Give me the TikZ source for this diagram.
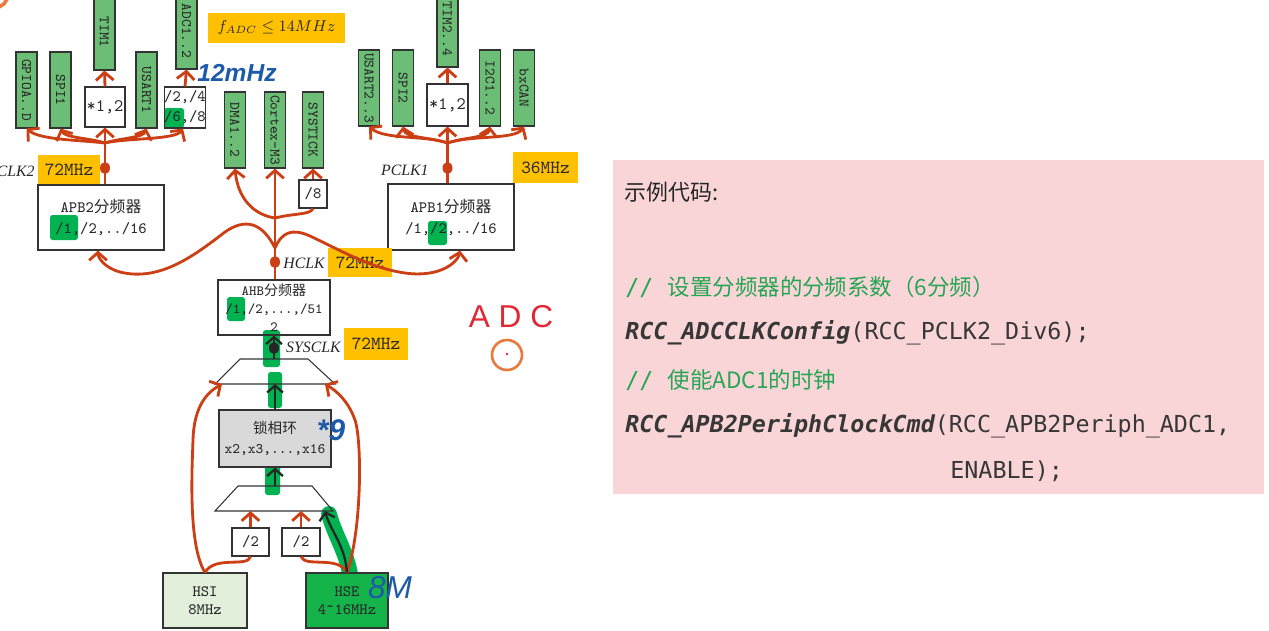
\documentclass[tikz,border=0pt]{standalone}
\usepackage{fontspec}
\usepackage{graphicx}
\setmainfont{Liberation Serif}
\newfontfamily\cjk{Noto Sans CJK SC}
\newfontfamily\codefont{DejaVu Sans Mono}
\newfontfamily\handfont{Liberation Sans}
\newfontfamily\dfont{Latin Modern Mono}
\usetikzlibrary{arrows.meta,calc}
\definecolor{pgreen}{RGB}{108,190,118}
\definecolor{hlg}{RGB}{0,178,80}
\definecolor{ylw}{RGB}{255,192,0}
\definecolor{arr}{RGB}{204,62,20}
\definecolor{txt}{RGB}{40,40,40}
\definecolor{pinkbg}{RGB}{250,213,215}
\definecolor{cgreen}{RGB}{38,165,85}
\definecolor{hand}{RGB}{30,90,170}
\definecolor{hsig}{RGB}{226,239,218}
\definecolor{hseg}{RGB}{20,180,75}
\definecolor{pllg}{RGB}{217,217,217}
\definecolor{adcred}{RGB}{225,40,50}
\definecolor{ring}{RGB}{232,122,60}
\definecolor{codetxt}{RGB}{55,55,55}
\newcommand\zh[1]{{\cjk #1}}
\begin{document}
\begin{tikzpicture}[x=0.02cm,y=-0.02cm,
  box/.style={draw=black!80, line width=0.6pt, inner sep=0pt, text=txt, font=\dfont\fontsize{9}{11}\selectfont, align=center},
  periph/.style={box, fill=pgreen, minimum width=0.42cm, minimum height=1.52cm, font=\dfont\fontsize{8.3}{9}\selectfont},
  ylab/.style={fill=ylw, inner sep=0pt, text=txt, font=\dfont\fontsize{10.5}{11}\selectfont},
  clk/.style={font=\itshape\fontsize{9}{10}\selectfont, text=txt, inner sep=0pt},
  rar/.style={draw=arr, line width=1.6pt, -{Straight Barb[length=4.5pt,width=10pt]}},
  rline/.style={draw=arr, line width=1.6pt},
  kar/.style={draw=black!85, line width=1.3pt, -{Straight Barb[length=4pt,width=9pt]}},
  hlbox/.style={fill=hlg, rounded corners=1.5pt},
  muxline/.style={draw=black!80, line width=0.6pt}
]
\useasboundingbox (0,0) rectangle (1269,630);
\fill[white] (0,0) rectangle (1269,630);

% marker highlights
\fill[hlbox] (164,108) rectangle (184,128);
\fill[hlbox] (50,215) rectangle (78,240);
\fill[hlbox] (428,221) rectangle (447,245);
\fill[hlbox] (227,297) rectangle (245,321);
\fill[hlbox] (263,330) rectangle (280,367);
\fill[hlbox] (268,372) rectangle (282,408);
\fill[hlbox] (265,458) rectangle (280,495);

% peripherals
\node[periph] (gpio) at (26.5,90) {\rotatebox{-90}{GPIOA..D}};
\node[periph] (spi1) at (60.5,90) {\rotatebox{-90}{SPI1}};
\node[periph] (tim1) at (104.5,32) {\rotatebox{-90}{TIM1}};
\node[periph] (usart1) at (146.5,90) {\rotatebox{-90}{USART1}};
\node[periph] (adc) at (186.5,31) {\rotatebox{-90}{ADC1..2}};
\node[periph] (dma) at (235,130) {\rotatebox{-90}{DMA1..2}};
\node[periph] (cortex) at (275,130) {\rotatebox{-90}{Cortex-M3}};
\node[periph] (systick) at (313,130) {\rotatebox{-90}{SYSTICK}};
\node[periph] (usart2) at (369,88) {\rotatebox{-90}{USART2..3}};
\node[periph] (spi2) at (403,88) {\rotatebox{-90}{SPI2}};
\node[periph] (tim2) at (447.5,29) {\rotatebox{-90}{TIM2..4}};
\node[periph] (i2c) at (490,88) {\rotatebox{-90}{I2C1..2}};
\node[periph] (bxcan) at (524,88) {\rotatebox{-90}{bxCAN}};

% divider boxes
\node[box, minimum width=0.8cm, minimum height=0.8cm, font=\dfont\fontsize{10}{11}\selectfont] (mul1) at (105,107) {*1,2};
\node[box, minimum width=0.8cm, minimum height=0.82cm, font=\dfont\fontsize{9}{11.5}\selectfont] (adcpre) at (185,107.5) {/2,/4\\/6,/8};
\node[box, minimum width=0.82cm, minimum height=0.84cm, font=\dfont\fontsize{10}{11}\selectfont] (mul2) at (447.5,105) {*1,2};
\node[box, minimum width=0.56cm, minimum height=0.56cm] (div8) at (313,194) {/8};
\node[box, minimum width=2.52cm, minimum height=1.3cm, font=\dfont\fontsize{9}{12}\selectfont] (apb2) at (101,217.5) {APB2\zh{分频器}\\/1,/2,../16};
\node[box, minimum width=2.52cm, minimum height=1.32cm, font=\dfont\fontsize{9}{12}\selectfont] (apb1) at (451,217) {APB1\zh{分频器}\\/1,/2,../16};
\node[box, minimum width=2.24cm, minimum height=1.1cm, font=\dfont\fontsize{8}{10.2}\selectfont] (ahb) at (274,307.5) {AHB\zh{分频器}\\/1,/2,...,/51\\2};
\node[box, fill=pllg, minimum width=2.24cm, minimum height=1.14cm, font=\dfont\fontsize{8.3}{11.3}\selectfont] (pll) at (275,438.5) {\zh{锁相环}\\x2,x3,...,x16};
\node[box, minimum width=0.74cm, minimum height=0.56cm] (div2a) at (250.5,542) {/2};
\node[box, minimum width=0.76cm, minimum height=0.56cm] (div2b) at (301,542) {/2};
\node[box, fill=hsig, minimum width=1.68cm, minimum height=1.1cm, font=\dfont\fontsize{9}{10}\selectfont] (hsi) at (205,600.5) {HSI\\8MHz};

% green marker on HSE path
\draw[hlg, line width=9pt, line cap=round] (329,514) .. controls (336,540) and (350,555) .. (352,590);
\node[box, fill=hseg, minimum width=1.64cm, minimum height=1.1cm, font=\dfont\fontsize{9}{10}\selectfont] (hse) at (347,600.5) {HSE\\4\raisebox{0.45ex}{\textasciitilde}16MHz};

% multiplexers
\draw[muxline] (240,359) -- (308,359) -- (335,384) -- (215,384) -- cycle;
\draw[muxline] (238,486) -- (312,486) -- (333,511) -- (215,511) -- cycle;
\coordinate (m1T) at (274,359);
\coordinate (m1B) at (275,384);
\coordinate (m1BL) at (222,384);
\coordinate (m1BR) at (325,384);
\coordinate (m2T) at (275,486);
\coordinate (m2Ba) at (250.5,511);
\coordinate (m2Bb) at (301,511);
\coordinate (m2Bc) at (325,511);

% yellow labels
\node[ylab, minimum width=1.24cm, minimum height=0.58cm] (f72a) at (69,169.5) {72MHz};
\node[ylab, minimum width=2.74cm, minimum height=0.6cm, font=\fontsize{9}{11}\selectfont] (fadc) at (276.5,28) {$f_{ADC}\leq 14MHz$};
\node[ylab, minimum width=1.3cm, minimum height=0.62cm] (f36) at (545.5,167.5) {36MHz};
\node[ylab, minimum width=1.28cm, minimum height=0.58cm] (f72h) at (360,262.5) {72MHz};
\node[ylab, minimum width=1.28cm, minimum height=0.64cm] (f72s) at (376,344) {72MHz};

% clock names
\node[clk, anchor=east] (pclk2) at (35,171) {PCLK2};
\node[clk, anchor=east] (pclk1) at (429,170) {PCLK1};
\node[clk, anchor=east] (hclk) at (325,263) {HCLK};
\node[clk, anchor=east] (sysclk) at (341,347) {SYSCLK};

% APB2 tree
\coordinate (a2b) at (apb2.north -| mul1.south);
\coordinate (j2) at (105,143);
\draw[rar] (a2b) -- (mul1.south);
\draw[rar] (j2) .. controls (80,140) and (40,140) .. (gpio.south);
\draw[rar] (j2) .. controls (90,138) and (65,138) .. (spi1.south);
\draw[rar] (j2) .. controls (120,138) and (143,138) .. (usart1.south);
\draw[rar] (j2) .. controls (125,138) and (175,140) .. ($(adcpre.south)+(-2,0)$);
\draw[rar] (mul1.north) -- (tim1.south);
\draw[rar] (adcpre.north) -- (adc.south);
\fill[arr] (105,168) ellipse (5 and 6);

% APB1 tree
\coordinate (a1b) at (apb1.north -| mul2.south);
\coordinate (j1) at (447.5,143);
\draw[rar] (a1b) -- (mul2.south);
\draw[rar] (j1) .. controls (425,135) and (385,140) .. (usart2.south);
\draw[rar] (j1) .. controls (430,137) and (405,138) .. (spi2.south);
\draw[rar] (j1) .. controls (465,137) and (488,138) .. (i2c.south);
\draw[rar] (j1) .. controls (470,135) and (515,140) .. (bxcan.south);
\draw[rar] (mul2.north) -- (tim2.south);
\fill[arr] (447.5,168) ellipse (5 and 6);

% HCLK tree
\coordinate (ahbT) at (ahb.north -| cortex.south);
\coordinate (jh) at (275,218);
\coordinate (jb) at (275,248);
\draw[rar] (ahbT) -- (cortex.south);
\draw[rar] (jh) .. controls (255,215) and (238,200) .. (dma.south);
\draw[rline] (jh) .. controls (295,213) and (310,215) .. (div8.south);
\draw[rar] (div8.north) -- (systick.south);
\draw[rar] (jb) .. controls (262,222) and (245,218) .. (225,232) .. controls (195,255) and (160,282) .. (120,272) .. controls (105,268) and (98,258) .. ($(apb2.south)+(-3,0)$);
\draw[rar] (jb) .. controls (282,232) and (292,228) .. (310,236) .. controls (340,250) and (370,268) .. (405,273) .. controls (440,278) and (458,262) .. ($(apb1.south)+(9,0)$);
\fill[arr] (275,262) ellipse (5 and 6);

% SYSCLK path
\draw[kar] (m1T) -- (ahb.south);
\fill[black!85] (274,348) ellipse (5 and 6);
\draw[kar] (pll.north) -- (m1B);
\draw[kar] (m2T) -- (pll.south);

% sources
\draw[rar] (hsi.north) .. controls (188,545) and (192,470) .. (193,440) .. controls (194,405) and (208,392) .. (m1BL);
\draw[rline] (hsi.north) .. controls (215,555) and (248,568) .. (div2a.south);
\draw[rar] (div2a.north) -- (m2Ba);
\draw[rar] (div2b.north) -- (m2Bb);
\draw[rline] (hse.north) .. controls (338,555) and (305,568) .. (div2b.south);
\draw[rar] (hse.north) .. controls (362,530) and (362,440) .. (355,420) .. controls (348,400) and (335,390) .. (m1BR);
\draw[kar] (hse.north) .. controls (345,545) and (330,530) .. (m2Bc);

% handwriting
\node[text=hand, font=\handfont\bfseries\itshape\fontsize{14}{14}\selectfont] (h12) at (237,73) {12mHz};
\node[text=hand, font=\handfont\bfseries\itshape\fontsize{17}{17}\selectfont] (h9) at (331,430) {*9};
\node[text=hand, font=\handfont\itshape\fontsize{18}{18}\selectfont] (h8) at (390,588) {8M};
\node[text=adcred, font=\handfont\fontsize{18}{18}\selectfont] (hadc) at (511,317) {A D C};
\draw[ring, line width=1.5pt] (507,355) circle (15);
\fill[adcred] (507,354) circle (1.3);
\draw[ring, line width=2pt] (-6,-6) circle (14);

% code panel
\fill[pinkbg] (613,160) rectangle (1264,494);
\node[anchor=west, inner sep=0pt, text=black!85, font=\cjk\fontsize{12.5}{14}\selectfont] (title) at (624,192) {示例代码:};
\node[anchor=west, inner sep=0pt, text=cgreen] (c1) at (625,287) {{\codefont\fontsize{13.3}{15}\selectfont // }{\cjk\fontsize{12.8}{15}\selectfont 设置分频器的分频系数（6分频）}};
\node[anchor=west, inner sep=0pt, text=codetxt, font=\codefont\fontsize{13.3}{15}\selectfont] (l1) at (625,333) {{\bfseries\itshape RCC\_ADCCLKConfig}(RCC\_PCLK2\_Div6);};
\node[anchor=west, inner sep=0pt, text=cgreen] (c2) at (625,380) {{\codefont\fontsize{13.3}{15}\selectfont // }{\cjk\fontsize{12.8}{15}\selectfont 使能ADC1的时钟}};
\node[anchor=west, inner sep=0pt, text=codetxt, font=\codefont\fontsize{13.3}{15}\selectfont] (l2) at (625,426) {{\bfseries\itshape RCC\_APB2PeriphClockCmd}(RCC\_APB2Periph\_ADC1,};
\node[anchor=west, inner sep=0pt, text=codetxt, font=\codefont\fontsize{13.3}{15}\selectfont] (l3) at (950,471) {ENABLE);};
\end{tikzpicture}
\end{document}
